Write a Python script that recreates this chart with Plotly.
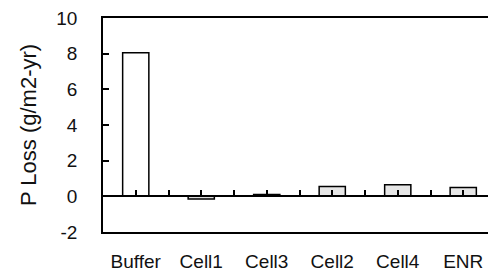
import plotly.graph_objects as go

categories = ["Buffer", "Cell1", "Cell3", "Cell2", "Cell4", "ENR"]
p_loss = [8.05, -0.15, 0.1, 0.55, 0.65, 0.5]
bar_colors = ["#ffffff", "#dddddd", "#dddddd", "#e6e6e6", "#e6e6e6", "#e6e6e6"]
y_ticks = [-2, 0, 2, 4, 6, 8, 10]
y_tick_text = ["-2", "0", "2", "4", "6", "8", "10"]

font = dict(family="Liberation Sans, Arial, sans-serif", size=19, color="#111111")

fig = go.Figure()
fig.add_trace(go.Bar(
    x=list(range(len(categories))), y=p_loss,
    width=0.4,
    marker=dict(color=bar_colors, line=dict(color="#000000", width=1.5)),
))
# invisible trace to activate secondary x-axis (ticks on the zero line)
fig.add_trace(go.Scatter(x=[0], y=[0], xaxis="x2", mode="markers",
                         marker=dict(opacity=0), showlegend=False, hoverinfo="skip"))

ymin, ymax = -2, 10
fig.update_layout(
    width=488, height=267,
    margin=dict(l=95, r=0, t=8, b=43),
    paper_bgcolor="white", plot_bgcolor="white",
    showlegend=False, font=font,
    xaxis=dict(
        range=[-0.5, 5.5],
        tickmode="array", tickvals=list(range(len(categories))), ticktext=categories,
        ticks="", showline=True, linecolor="#000000", linewidth=1.5, mirror=True,
        showgrid=False, zeroline=False, ticklabelstandoff=11,
        tickfont=font,
    ),
    xaxis2=dict(
        range=[-0.5, 5.5], overlaying="x", anchor="free",
        position=(0 - ymin) / (ymax - ymin),
        tickmode="linear", tick0=0, dtick=0.5,
        ticks="inside", ticklen=5, tickwidth=1.5, tickcolor="#000000",
        showticklabels=False, showline=True, linecolor="#000000", linewidth=2,
        showgrid=False, zeroline=False,
    ),
    yaxis=dict(
        range=[ymin, ymax], tickmode="array", tickvals=y_ticks, ticktext=y_tick_text,
        ticks="inside", ticklen=6, tickwidth=1.5, tickcolor="#000000",
        showline=True, linecolor="#000000", linewidth=1.5,
        showgrid=False, zeroline=False, ticklabelstandoff=20,
        ticklabeloverflow="allow",
        tickfont=font,
        title=dict(text="P Loss (g/m2-yr)", font=dict(family=font["family"], size=22, color="#111111"), standoff=14),
    ),
)

fig.write_html("out.html")
